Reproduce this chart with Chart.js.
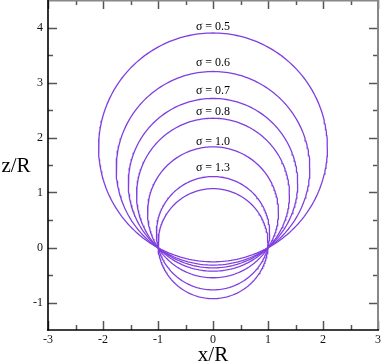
<!DOCTYPE html>
<html><head><meta charset="utf-8">
<script src="https://cdn.jsdelivr.net/npm/chart.js@4.4.1/dist/chart.umd.min.js"></script>
<style>html,body{margin:0;padding:0;background:#fff;}#wrap{width:382px;height:363px;}</style>
</head><body><div id="wrap"><canvas id="c" width="382" height="363"></canvas></div>
<script>
// circle families (all pass through x=±1, z=0)
const sigmaLabels = ['σ = 0.5','σ = 0.6','σ = 0.7','σ = 0.8','σ = 1.0','σ = 1.3',''];
const centersZ = [1.82, 1.44, 1.17, 0.96, 0.64, 0.26, 0.07];
const radii    = [2.08, 1.76, 1.54, 1.39, 1.19, 1.03, 1.00];
const labelZ   = [4.02, 3.35, 2.84, 2.47, 1.93, 1.45, null];
const xTicks = [-3,-2,-1,0,1,2,3];
const yTicks = [-1,0,1,2,3,4];
const xMinor = [-2.5,-1.5,-0.5,0.5,1.5,2.5];
const yMinor = [-0.5,0.5,1.5,2.5,3.5];

const N = 240;
const datasets = centersZ.map((cz, i) => {
  const pts = [];
  for (let k = 0; k <= N; k++) {
    const t = 2 * Math.PI * k / N;
    pts.push({x: radii[i] * Math.cos(t), y: cz + radii[i] * Math.sin(t)});
  }
  return {label: sigmaLabels[i], data: pts, showLine: true, pointRadius: 0,
          borderColor: '#7f3fdf', borderWidth: 1.3, fill: false, tension: 0};
});

const SERIF = '"Liberation Serif", "DejaVu Serif", serif';

const frame = {
  id: 'frame',
  afterDatasetsDraw(chart) {
    const ctx = chart.ctx, a = chart.chartArea;
    const xs = chart.scales.x, ys = chart.scales.y;
    ctx.save();
    ctx.fillStyle = '#000';
    ctx.font = '12px ' + SERIF;
    ctx.textAlign = 'center';
    ctx.textBaseline = 'middle';
    labelZ.forEach((z, i) => {
      if (z === null) return;
      ctx.fillText(sigmaLabels[i], xs.getPixelForValue(0), ys.getPixelForValue(z));
    });
    ctx.strokeStyle = '#555';
    ctx.lineWidth = 1.5;
    const tick = (x1, y1, x2, y2) => { ctx.beginPath(); ctx.moveTo(x1, y1); ctx.lineTo(x2, y2); ctx.stroke(); };
    xTicks.forEach(v => { const p = Math.round(xs.getPixelForValue(v)) + 0.5;
      tick(p, a.bottom, p, a.bottom - 9); tick(p, a.top, p, a.top + 9); });
    xMinor.forEach(v => { const p = Math.round(xs.getPixelForValue(v)) + 0.5;
      tick(p, a.bottom, p, a.bottom - 5); tick(p, a.top, p, a.top + 5); });
    yTicks.forEach(v => { const p = Math.round(ys.getPixelForValue(v)) + 0.5;
      tick(a.left, p, a.left + 9, p); tick(a.right, p, a.right - 9, p); });
    yMinor.forEach(v => { const p = Math.round(ys.getPixelForValue(v)) + 0.5;
      tick(a.left, p, a.left + 5, p); tick(a.right, p, a.right - 5, p); });
    ctx.lineWidth = 2;
    ctx.strokeStyle = '#888';
    tick(a.left, a.top + 0.5, a.right, a.top + 0.5);
    tick(a.right, a.top, a.right, a.bottom);
    ctx.strokeStyle = '#000';
    ctx.lineWidth = 1.6;
    tick(a.left, a.top, a.left, a.bottom + 0.8);
    tick(a.left - 0.8, a.bottom, a.right + 1, a.bottom);
    ctx.font = '21px ' + SERIF;
    ctx.textAlign = 'center';
    ctx.textBaseline = 'middle';
    ctx.fillText('x/R', xs.getPixelForValue(0), 355);
    ctx.fillText('z/R', 16, 166);
    ctx.restore();
  }
};

new Chart(document.getElementById('c'), {
  type: 'scatter',
  data: {datasets},
  options: {
    responsive: false, animation: false, devicePixelRatio: 1,
    layout: {padding: {left: 0, right: 4, top: 0, bottom: 0}},
    plugins: {legend: {display: false}, tooltip: {enabled: false}},
    scales: {
      x: {type: 'linear', min: -3, max: 3,
          afterBuildTicks: s => { s.ticks = xTicks.map(v => ({value: v})); },
          afterFit: s => { s.height = 33; s.paddingLeft = 0; s.paddingRight = 0; },
          grid: {display: false, drawTicks: false}, border: {display: false},
          ticks: {font: {family: SERIF, size: 12}, color: '#111', padding: 3, maxRotation: 0,
                  callback: v => String(v)}},
      y: {type: 'linear', min: -1.5, max: 4.5,
          afterBuildTicks: s => { s.ticks = yTicks.map(v => ({value: v})); },
          afterFit: s => { s.width = 48; s.paddingTop = 0; s.paddingBottom = 0; },
          grid: {display: false, drawTicks: false}, border: {display: false},
          ticks: {font: {family: SERIF, size: 12}, color: '#111', padding: 5,
                  callback: v => String(v)}}
    }
  },
  plugins: [frame]
});
</script></body></html>
